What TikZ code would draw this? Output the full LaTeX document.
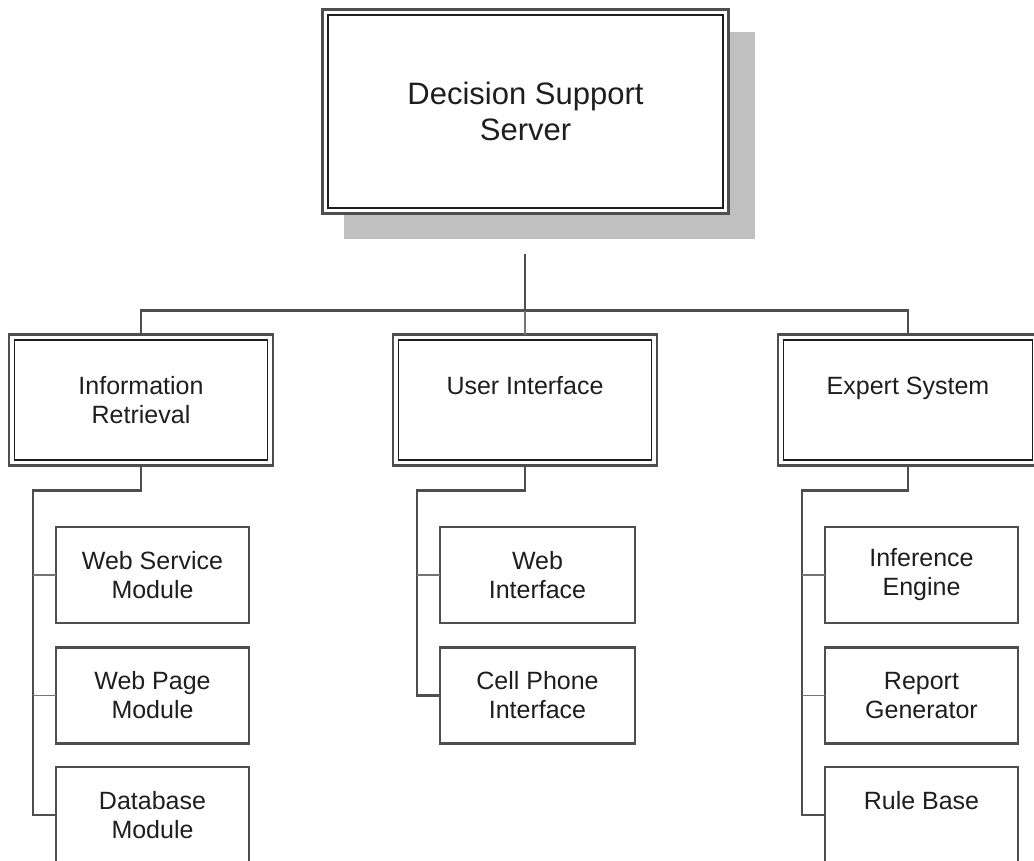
\documentclass[tikz,border=0pt]{standalone}
\usepackage{fontspec}
\setmainfont{Liberation Sans}
\usetikzlibrary{calc}

\definecolor{edge}{HTML}{4E4E4E}
\definecolor{ink}{HTML}{1E1E1E}
\definecolor{shadowgray}{HTML}{C0C0C0}
\definecolor{stubgray}{HTML}{747474}

\tikzset{
  framebox/.style={draw=edge, line width=2.8pt, fill=white, rectangle,
    inner sep=0pt, outer sep=0pt, align=center, text=ink},
  midbox/.style={framebox, minimum width=264pt, minimum height=131pt,
    font=\fontsize{25}{29}\selectfont},
  childbox/.style={draw=edge, line width=2.4pt, fill=white, rectangle,
    inner sep=0pt, outer sep=0pt, minimum width=193pt, minimum height=96pt,
    align=center, text=ink, font=\fontsize{25}{29}\selectfont},
  conn/.style={draw=edge, line width=2.8pt},
  stub/.style={draw=stubgray, line width=1.8pt},
  innerframe/.style={draw=ink, line width=1.3pt},
}

\newcommand{\innerframe}[1]{%
  \draw[innerframe] ($(#1.north west)+(5.5pt,-5.5pt)$) rectangle ($(#1.south east)+(-5.5pt,5.5pt)$);}

\begin{document}
\begin{tikzpicture}[x=1pt,y=-1pt]
\useasboundingbox (0,0) rectangle (1034,861);
\clip (0,0) rectangle (1034,861);

% root box with drop shadow
\fill[shadowgray] (344,32) rectangle (755,239);
\node[framebox, minimum width=406pt, minimum height=204pt,
      font=\fontsize{31}{36}\selectfont] (dss) at (525.5,111.5) {Decision Support\\Server};
\innerframe{dss}

% second level
\node[midbox] (ir) at (141,400) {Information\\Retrieval};
\node[midbox] (ui) at (525,400) {User Interface\\\mbox{}};
\node[midbox, minimum width=260pt] (es) at (908,400) {Expert System\\\mbox{}};
\innerframe{ir}
\innerframe{ui}
\innerframe{es}

% third level
\node[childbox] (ws) at (152.5,575)   {Web Service\\Module};
\node[childbox] (wp) at (152.5,695.5) {Web Page\\Module};
\node[childbox] (db) at (152.5,815)   {Database\\Module};

\node[childbox, minimum width=195pt] (wi) at (537.5,575)   {Web\\Interface};
\node[childbox, minimum width=195pt] (cp) at (537.5,695.5) {Cell Phone\\Interface};

\node[childbox] (ie) at (921.5,575)   {Inference\\Engine};
\node[childbox] (rg) at (921.5,695.5) {Report\\Generator};
\node[childbox] (rb) at (921.5,815)   {Rule Base\\\mbox{}};

% root to second level
\coordinate (dss-tail) at (525,254);
\draw[conn] (dss-tail) -- ++(0,56.5);
\draw[conn] (ir.north) -- ++(0,-24) -| (es.north);
\draw[stub] (ui.north) -- ++(0,-24);

% second level to third level
\draw[conn] (ir.south) -- ++(0,25) -| ($(db.west)+(-23pt,0)$) -- (db.west);
\draw[stub] (ws.west) -- ++(-23,0);
\draw[stub] (wp.west) -- ++(-23,0);

\draw[conn] (ui.south) -- ++(0,25) -| ($(cp.west)+(-23pt,0)$) -- (cp.west);
\draw[stub] (wi.west) -- ++(-23,0);

\draw[conn] (es.south) -- ++(0,25) -| ($(rb.west)+(-23pt,0)$) -- (rb.west);
\draw[stub] (ie.west) -- ++(-23,0);
\draw[stub] (rg.west) -- ++(-23,0);
\end{tikzpicture}
\end{document}
